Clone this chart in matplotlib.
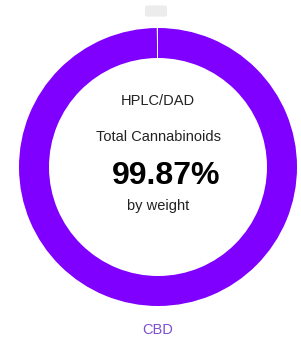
import matplotlib
matplotlib.use("Agg")
import matplotlib.pyplot as plt

labels = ["CBD", ""]
shares = [99.87, 0.13]          # percent by weight, rest is the gap
colors = ["#7f00ff", "white"]
method = "HPLC/DAD"
title = "Total Cannabinoids"
total = "99.87%"
unit = "by weight"

plt.rcParams['font.family'] = ['Liberation Sans', 'DejaVu Sans']

fig = plt.figure(figsize=(3.01, 3.42), dpi=100)
ax = fig.add_axes([0, 0, 1, 1])

# y axis runs downwards, so 270 deg is the top of the ring
ax.pie(shares, colors=colors, center=(158, 167), radius=139,
       startangle=270, counterclock=True,
       wedgeprops=dict(width=30, linewidth=0), frame=True)
ax.set_xlim(0, 301)
ax.set_ylim(342, 0)
ax.set_aspect('equal')
ax.axis('off')

# faded legend chip at the top
ax.text(156, 11, "         ", fontsize=5, ha='center', va='center',
        bbox=dict(boxstyle='round,pad=0.3', fc='#ececec', ec='none'))

ax.text(158, 101, method, ha='center', va='center', fontsize=10.5, color='#222222')
ax.text(158, 137, title, ha='center', va='center', fontsize=10.5, color='#222222')
ax.text(166, 176, total, ha='center', va='center', fontsize=23,
        fontweight='bold', color='black')
ax.text(158, 206, unit, ha='center', va='center', fontsize=10.5, color='#222222')
ax.text(158, 330, labels[0], ha='center', va='center', fontsize=10.5,
        color='#7b4fd0')

fig.savefig("out.png", dpi=100)
